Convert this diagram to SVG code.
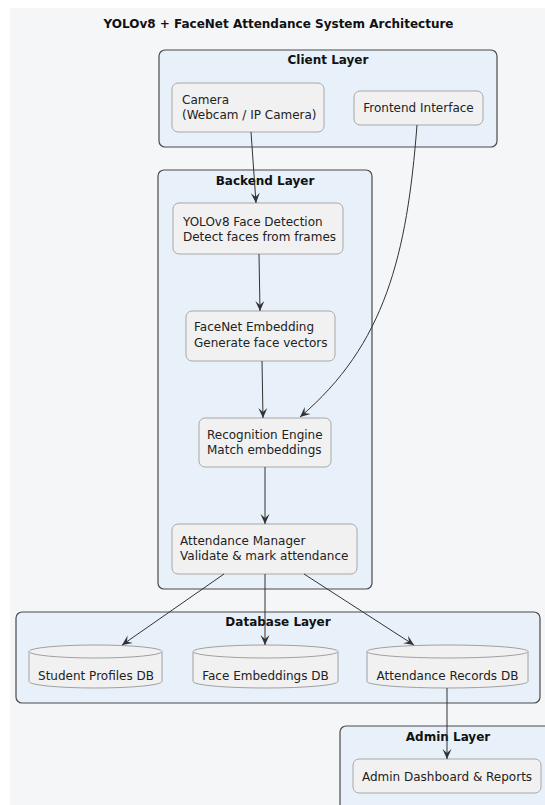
<svg xmlns="http://www.w3.org/2000/svg" width="545" height="805" viewBox="0 0 545 805">
<defs>
<style>
.layer{fill:#E8F0FA;stroke:#4a4a4a;stroke-width:1.2}
.node{fill:#F1F1F1;stroke:#A8A8A8;stroke-width:1}
.cyl{fill:#F1F1F1;stroke:#A0A0A0;stroke-width:1}
.t{font-family:"DejaVu Sans",Verdana,sans-serif;font-size:12px;fill:#222}
.lt{font-family:"DejaVu Sans",Verdana,sans-serif;font-size:12px;font-weight:bold;fill:#111;text-anchor:middle}
.c{text-anchor:middle}
.edge{fill:none;stroke:#333;stroke-width:1;marker-end:url(#ah)}
</style>
<marker id="ah" viewBox="-11 -6 12 12" refX="0" refY="0" markerWidth="12" markerHeight="12" orient="auto" markerUnits="userSpaceOnUse">
<path d="M0,0 L-10,-4.5 L-6,0 L-10,4.5 Z" fill="#333"/>
</marker>
</defs>
<rect width="545" height="805" fill="#FFFFFF"/>
<rect x="10" y="8" width="535" height="797" fill="#F5F6F8"/>
<text x="278.5" y="28" class="lt">YOLOv8 + FaceNet Attendance System Architecture</text>

<g id="client-layer">
<rect x="159" y="50" width="338" height="97" rx="6" class="layer"/>
<text x="328" y="64" class="lt">Client Layer</text>
</g>
<g id="backend-layer">
<rect x="158" y="170" width="214" height="419" rx="6" class="layer"/>
<text x="265" y="185" class="lt">Backend Layer</text>
</g>
<g id="database-layer">
<rect x="16" y="612" width="524" height="91" rx="6" class="layer"/>
<text x="278" y="626" class="lt">Database Layer</text>
</g>
<g id="admin-layer">
<rect x="340" y="726" width="230" height="110" rx="6" class="layer"/>
<text x="448" y="741" class="lt">Admin Layer</text>
</g>

<g id="camera">
<rect x="172" y="83" width="152" height="49" rx="6" class="node"/>
<text x="182" y="104" class="t">Camera</text>
<text x="182" y="119" class="t">(Webcam / IP Camera)</text>
</g>
<g id="frontend">
<rect x="354" y="91" width="129" height="34" rx="6" class="node"/>
<text x="418.5" y="112" class="t c">Frontend Interface</text>
</g>
<g id="yolo">
<rect x="173" y="203" width="170" height="51" rx="6" class="node"/>
<text x="183" y="226" class="t">YOLOv8 Face Detection</text>
<text x="183" y="241" class="t">Detect faces from frames</text>
</g>
<g id="facenet">
<rect x="186" y="311" width="149" height="50" rx="6" class="node"/>
<text x="194" y="331" class="t">FaceNet Embedding</text>
<text x="194" y="347" class="t">Generate face vectors</text>
</g>
<g id="recognition">
<rect x="199" y="418" width="132" height="49" rx="6" class="node"/>
<text x="207" y="439" class="t">Recognition Engine</text>
<text x="207" y="454" class="t">Match embeddings</text>
</g>
<g id="attendance-manager">
<rect x="172" y="524" width="185" height="50" rx="6" class="node"/>
<text x="180" y="545" class="t">Attendance Manager</text>
<text x="180" y="560" class="t">Validate &amp; mark attendance</text>
</g>
<g id="student-db">
<path d="M29,651.5 A66.5,6.5 0 0 1 162,651.5 L162,681.5 A66.5,6.5 0 0 1 29,681.5 Z" class="cyl"/>
<path d="M29,651.5 A66.5,6.5 0 0 0 162,651.5" class="cyl" fill="none"/>
<text x="96" y="680" class="t c">Student Profiles DB</text>
</g>
<g id="embeddings-db">
<path d="M193,651.5 A72.5,6.5 0 0 1 338,651.5 L338,681.5 A72.5,6.5 0 0 1 193,681.5 Z" class="cyl"/>
<path d="M193,651.5 A72.5,6.5 0 0 0 338,651.5" class="cyl" fill="none"/>
<text x="265.5" y="680" class="t c">Face Embeddings DB</text>
</g>
<g id="records-db">
<path d="M367,651.5 A80.5,6.5 0 0 1 528,651.5 L528,681.5 A80.5,6.5 0 0 1 367,681.5 Z" class="cyl"/>
<path d="M367,651.5 A80.5,6.5 0 0 0 528,651.5" class="cyl" fill="none"/>
<text x="447.5" y="680" class="t c">Attendance Records DB</text>
</g>
<g id="admin-dashboard">
<rect x="353" y="759" width="188" height="34" rx="6" class="node"/>
<text x="447" y="781" class="t c">Admin Dashboard &amp; Reports</text>
</g>

<g id="connectors">
<path d="M251,132 L256,203" class="edge"/>
<path d="M417,125 C407,255 385,345 300,417" class="edge"/>
<path d="M259,254 L260,311" class="edge"/>
<path d="M262,361 L263,418" class="edge"/>
<path d="M265,467 L265,524" class="edge"/>
<path d="M224,574 L122,645" class="edge"/>
<path d="M265,574 L265,645" class="edge"/>
<path d="M304,574 L414,645" class="edge"/>
<path d="M447,688 L447,759" class="edge"/>
</g>
</svg>
